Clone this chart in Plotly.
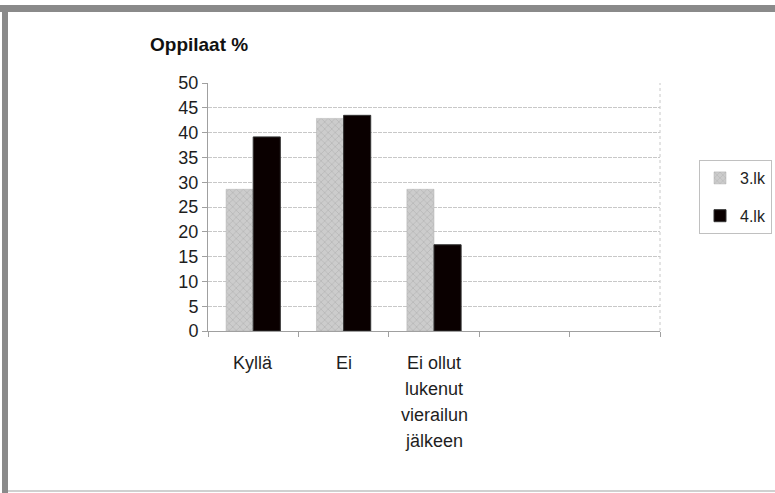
import plotly.graph_objects as go

categories = ["Kyllä", "Ei", "Ei ollut<br>lukenut<br>vierailun<br>jälkeen", "", ""]
series_names = ["3.lk", "4.lk"]
values_3lk = [28.57, 42.86, 28.57]
values_4lk = [39.13, 43.48, 17.39]
y_ticks = [0, 5, 10, 15, 20, 25, 30, 35, 40, 45, 50]

x_pos = list(range(len(categories)))

fig = go.Figure()
fig.add_trace(go.Bar(
    name=series_names[0], x=x_pos[:len(values_3lk)], y=values_3lk,
    legendgroup="a",
    marker=dict(color="#c4c4c4", line=dict(color="#b0b0b0", width=0.5),
                pattern=dict(shape="x", fgcolor="#a4a4a4", bgcolor="#cccccc", size=5, solidity=0.3)),
))
fig.add_trace(go.Bar(
    name=series_names[1], x=x_pos[:len(values_4lk)], y=values_4lk,
    legendgroup="b",
    marker=dict(color="#0a0000", line=dict(color="#333333", width=1)),
))

FONT = "Liberation Sans, Arial, sans-serif"
TXT = "#1e1e1e"
annotations = []
line_step = 26 / 248
for i, cat in enumerate(categories):
    if not cat:
        continue
    for j, line in enumerate(cat.split("<br>")):
        annotations.append(dict(
            x=i, y=-0.129 - j * line_step, xref="x", yref="paper",
            text=line, showarrow=False, xanchor="center", yanchor="middle",
            font=dict(family=FONT, size=18, color=TXT),
        ))

annotations.append(dict(
    x=-0.133, y=1.155, xref="paper", yref="paper", text="<b>Oppilaat %</b>",
    showarrow=False, xanchor="left", yanchor="middle",
    font=dict(family=FONT, size=19, color="#111111"),
))

def px_x(p):
    return (p - 208) / 452

def px_y(p):
    return (331 - p) / 248

shapes = [
    dict(type="rect", xref="paper", yref="paper", x0=px_x(0), x1=px_x(776), y0=px_y(12), y1=px_y(5),
         fillcolor="#8a8a8a", line=dict(width=0), layer="above"),
    dict(type="rect", xref="paper", yref="paper", x0=px_x(2), x1=px_x(8), y0=px_y(494), y1=px_y(5),
         fillcolor="#8a8a8a", line=dict(width=0), layer="above"),
    dict(type="line", xref="paper", yref="paper", x0=px_x(8), x1=px_x(776), y0=px_y(491), y1=px_y(491),
         line=dict(color="#c0c0c0", width=1.5)),
    dict(type="line", xref="paper", yref="paper", x0=1, x1=1, y0=0, y1=1,
         line=dict(color="#c8c8c8", width=1, dash="dot")),
]

fig.update_layout(
    width=775, height=493,
    margin=dict(l=208, r=115, t=83, b=162, autoexpand=False),
    paper_bgcolor="white", plot_bgcolor="white",
    barmode="group", bargap=0.4, bargroupgap=0,
    font=dict(family=FONT, size=18, color=TXT),
    showlegend=True,
    legend=dict(
        xref="container", yref="container",
        x=699 / 775, y=1 - 160 / 493, xanchor="left", yanchor="top",
        bordercolor="#c0c0c0", borderwidth=1, bgcolor="white",
        font=dict(family=FONT, size=16, color=TXT),
        tracegroupgap=14, itemwidth=30,
    ),
    xaxis=dict(
        range=[-0.5, len(categories) - 0.5],
        tickvals=x_pos, ticktext=[""] * len(categories),
        showgrid=False, zeroline=False,
        showline=True, linecolor="#a0a0a0", linewidth=1,
        ticks="", fixedrange=True,
        minor=dict(tickvals=[i - 0.5 for i in range(len(categories) + 1)],
                   ticks="outside", ticklen=5, tickcolor="#a0a0a0", showgrid=False),
    ),
    yaxis=dict(
        range=[0, 50], tickvals=y_ticks,
        showgrid=True, gridcolor="#c8c8c8", griddash="4px,1px", gridwidth=1,
        zeroline=False, showline=True, linecolor="#a0a0a0", linewidth=1,
        ticks="outside", ticklen=5, tickcolor="#a0a0a0",
        tickfont=dict(family=FONT, size=18, color=TXT),
        fixedrange=True,
    ),
    annotations=annotations,
    shapes=shapes,
)

fig.write_html("out.html", config={"displayModeBar": False},
               post_script="document.body.style.margin='0px';")
